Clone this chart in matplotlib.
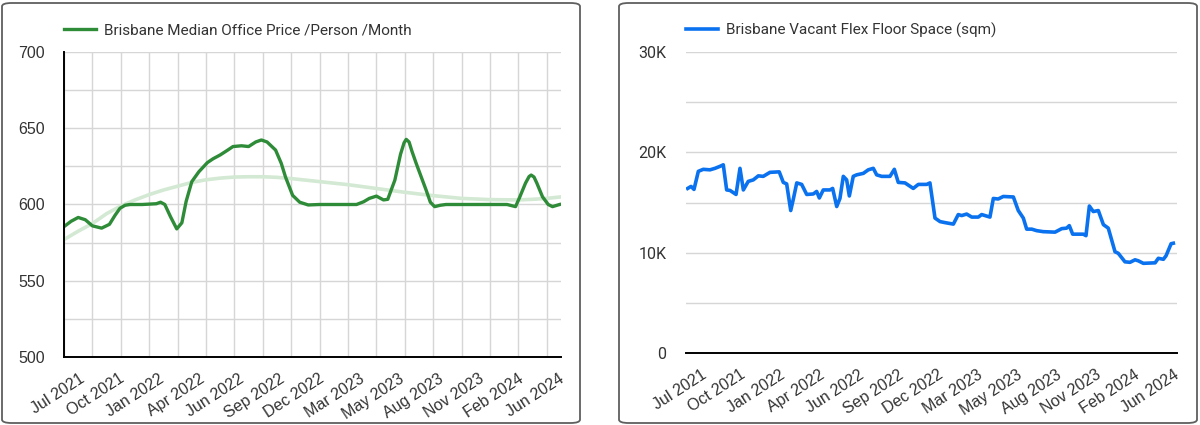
import numpy as np
import matplotlib.pyplot as plt
from matplotlib.patches import FancyBboxPatch

# x positions are months since Jul 2021
price_month = [0.0, 0.5, 1.0, 1.5, 2.0, 2.65, 3.2, 3.6, 3.94, 4.3, 4.65, 5.5, 6.5, 6.8,
               7.1, 7.5, 7.94, 8.3, 8.6, 9.0, 9.5, 10.1, 10.5, 11.0, 11.5, 11.9, 12.5,
               13.0, 13.5, 13.9, 14.3, 14.9, 15.3, 15.6, 16.1, 16.6, 17.2, 18.0, 20.6,
               21.1, 21.5, 22.0, 22.5, 22.8, 23.3, 23.7, 23.95, 24.1, 24.3, 24.5, 24.8,
               25.5, 25.8, 26.1, 26.5, 26.9, 31.2, 31.8, 32.1, 32.5, 32.75, 32.9, 33.1,
               33.3, 33.7, 34.1, 34.4, 34.9]
price_value = [585.5, 589, 591.5, 590, 586, 584.5, 587, 593, 597.5, 599.5, 600, 600, 600.5,
               601.5, 600, 592, 584, 588, 602, 615, 621.5, 627.5, 630, 632.5, 635.5, 638,
               638.5, 638, 641, 642.3, 641, 635.7, 627, 618, 606, 601.5, 599.7, 600, 600,
               601.8, 604, 605.5, 603, 603.4, 616, 633, 640.5, 642.7, 641, 635, 627,
               609.5, 601.5, 598.6, 599.5, 600, 600, 598.6, 605, 614, 618.3, 619.3, 618,
               614, 605, 600, 598.6, 600]

trend_month = [0, 1, 2, 3, 4, 5, 6, 7, 8, 9, 10, 11, 12, 13, 14, 15, 16, 17, 18, 20, 22,
               24, 26, 28, 30, 32, 33, 34, 35]
trend_value = [577, 582.5, 587.5, 594, 599, 603, 606.5, 609.5, 612, 614.5, 616.2, 617.3,
               618, 618.2, 618.2, 617.8, 617, 616, 615, 613, 610.5, 608, 605.8, 604, 603.2,
               603, 603.4, 604, 605]

space_month = [0.12, 0.36, 0.57, 0.88, 1.23, 1.71, 2.07, 2.43, 2.66, 2.90, 3.14, 3.57, 3.85,
               4.09, 4.44, 4.80, 5.16, 5.51, 5.99, 6.65, 6.94, 7.18, 7.47, 7.65, 7.90, 8.25,
               8.61, 9.08, 9.32, 9.51, 9.79, 10.27, 10.46, 10.75, 10.98, 11.22, 11.46, 11.65,
               11.93, 12.17, 12.65, 13.0, 13.36, 13.60, 13.96, 14.55, 14.86, 15.14, 15.62,
               16.21, 16.57, 17.17, 17.40, 17.76, 18.12, 18.47, 19.07, 19.42, 19.66, 20.02,
               20.38, 20.85, 21.09, 21.68, 21.92, 22.27, 22.63, 23.35, 23.70, 24.06, 24.30,
               24.66, 25.01, 25.48, 26.32, 26.80, 27.15, 27.34, 27.58, 28.34, 28.53, 28.77,
               29.05, 29.41, 29.77, 30.12, 30.60, 30.83, 31.31, 31.67, 32.03, 32.26, 32.62,
               33.46, 33.69, 34.05, 34.24, 34.60, 34.76]
space_k = [16.4, 16.6, 16.3, 18.1, 18.3, 18.25, 18.4, 18.6, 18.75, 16.25, 16.2, 15.8, 18.4,
           16.25, 17.1, 17.25, 17.65, 17.6, 18.0, 18.05, 17.0, 16.85, 14.2, 15.3, 16.95, 16.8,
           15.8, 15.85, 16.1, 15.45, 16.25, 16.25, 16.4, 14.6, 15.4, 17.6, 17.25, 15.65,
           17.6, 17.75, 17.9, 18.25, 18.4, 17.75, 17.6, 17.6, 18.3, 17.0, 16.95,
           16.4, 16.8, 16.8, 16.95, 13.45, 13.1, 13.0, 12.85, 13.8, 13.7, 13.85,
           13.55, 13.55, 13.8, 13.55, 15.4, 15.35, 15.6, 15.55, 14.2, 13.45, 12.35,
           12.35, 12.2, 12.1, 12.05, 12.4, 12.45, 12.7, 11.85, 11.85, 11.7, 14.65,
           14.1, 14.2, 12.8, 12.45, 10.1, 9.95, 9.1, 9.05, 9.3, 9.2, 8.95,
           9.0, 9.45, 9.35, 9.7, 10.9, 10.95]

date_labels = ['Jul 2021', 'Oct 2021', 'Jan 2022', 'Apr 2022', 'Jun 2022', 'Sep 2022',
               'Dec 2022', 'Mar 2023', 'May 2023', 'Aug 2023', 'Nov 2023', 'Feb 2024', 'Jun 2024']

GREEN = '#2e8b37'
TREND = '#d3e9d3'
BLUE = '#0b72ef'
GRID = '#d6d6d6'
TEXT = '#333333'

fig = plt.figure(figsize=(12, 4.25), dpi=100)

# card borders
for x0 in (2, 619):
    fig.patches.append(FancyBboxPatch((x0 / 1200, 2 / 425), 578 / 1200, 420 / 425,
                                      boxstyle='round,pad=0,rounding_size=0.008',
                                      transform=fig.transFigure, fill=False,
                                      edgecolor='#5f5f5f', linewidth=1.3))

label_pos = np.linspace(1.05, 34.8, len(date_labels))


def style_xlabels(labels):
    for lab in labels:
        lab.set_rotation(33)
        lab.set_ha('right')
        lab.set_va('top')
        lab.set_rotation_mode('anchor')
        lab.set_family('Liberation Sans')


# ---------- left: median office price ----------
ax1 = fig.add_axes([64 / 1200, 1 - 357 / 425, 497 / 1200, 305 / 425])
ax1.plot(trend_month, trend_value, color=TREND, lw=2.6, solid_capstyle='round', zorder=2)
ax1.plot(price_month, price_value, color=GREEN, lw=2.4, solid_joinstyle='round',
         label='Brisbane Median Office Price /Person /Month', zorder=3)
ax1.set_xlim(0, 35)
ax1.set_ylim(500, 700)
ax1.set_xticks(np.arange(0, 35, 2))
ax1.set_xticklabels([])
ax1.set_xticks(label_pos, date_labels, minor=True)
ax1.set_yticks(np.arange(500, 701, 50))
ax1.set_yticks(np.arange(525, 700, 50), minor=True)
ax1.grid(True, which='major', axis='x', color=GRID, lw=1.0)
ax1.grid(True, which='both', axis='y', color=GRID, lw=1.0)
ax1.tick_params(which='both', length=0)
ax1.tick_params(axis='y', pad=14, labelsize=11.5, labelcolor=TEXT)
ax1.tick_params(axis='x', which='minor', pad=10, labelsize=11.5, labelcolor=TEXT)
style_xlabels(ax1.get_xticklabels(minor=True))
for lab in ax1.get_yticklabels():
    lab.set_family('Liberation Sans')
for s in ('top', 'right'):
    ax1.spines[s].set_visible(False)
for s in ('left', 'bottom'):
    ax1.spines[s].set_color('black')
    ax1.spines[s].set_linewidth(1.4)
    ax1.spines[s].set_zorder(4)
ax1.legend(loc='center left', bbox_to_anchor=(0, 1.072), frameon=False, borderaxespad=0,
           borderpad=0, handlelength=2.1, handletextpad=0.5,
           prop={'family': 'Roboto', 'size': 11}, labelcolor=TEXT)

# ---------- right: vacant flex floor space ----------
ax2 = fig.add_axes([686 / 1200, 1 - 353.3 / 425, 490.7 / 1200, 301.6 / 425])
ax2.plot(space_month, np.array(space_k) * 1000, color=BLUE, lw=2.6, solid_joinstyle='round',
         label='Brisbane Vacant Flex Floor Space (sqm)', zorder=3)
ax2.set_xlim(0, 35)
ax2.set_ylim(0, 30000)
ax2.set_xticks(label_pos, date_labels)
ax2.set_yticks([0, 10000, 20000, 30000], ['0', '10K', '20K', '30K'])
ax2.set_yticks([5000, 15000, 25000], minor=True)
ax2.grid(True, which='both', axis='y', color=GRID, lw=1.0)
ax2.tick_params(which='both', length=0)
ax2.tick_params(axis='y', pad=14, labelsize=11.5, labelcolor=TEXT)
ax2.tick_params(axis='x', pad=10, labelsize=11.5, labelcolor=TEXT)
style_xlabels(ax2.get_xticklabels())
for lab in ax2.get_yticklabels():
    lab.set_family('Roboto')
for s in ('top', 'right', 'left'):
    ax2.spines[s].set_visible(False)
ax2.spines['bottom'].set_color('black')
ax2.spines['bottom'].set_linewidth(1.4)
ax2.legend(loc='center left', bbox_to_anchor=(0, 1.072), frameon=False, borderaxespad=0,
           borderpad=0, handlelength=2.1, handletextpad=0.5,
           prop={'family': 'Roboto', 'size': 11}, labelcolor=TEXT)

fig.savefig('out.png', dpi=100)
